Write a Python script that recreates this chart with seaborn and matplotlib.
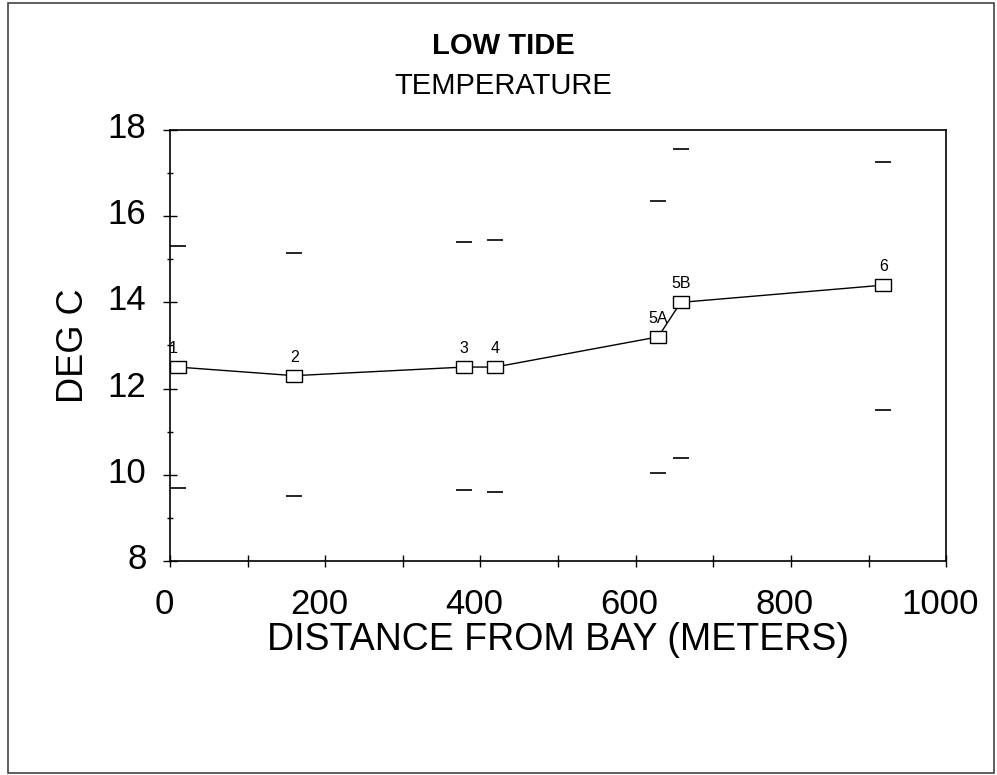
import matplotlib
matplotlib.use("Agg")
import matplotlib.pyplot as plt
import matplotlib.transforms as mtransforms
import seaborn as sns
import numpy as np
import pandas as pd
from matplotlib.patches import Rectangle

# ---- data ----
stations = ["1", "2", "3", "4", "5A", "5B", "6"]
distance_m = [10, 160, 379, 419, 629, 658, 919]
mean_temp = [12.5, 12.3, 12.5, 12.5, 13.2, 14.0, 14.4]
max_temp = [15.3, 15.15, 15.4, 15.45, 16.35, 17.55, 17.25]
min_temp = [9.7, 9.5, 9.65, 9.6, 10.05, 10.4, 11.5]

x_ticks = [0, 200, 400, 600, 800, 1000]
y_ticks = [8, 10, 12, 14, 16, 18]

df = pd.DataFrame({"station": stations, "dist": distance_m, "mean": mean_temp,
                   "max": max_temp, "min": min_temp})

sns.set_style("white")
plt.rcParams["font.family"] = ["Liberation Sans", "DejaVu Sans"]
plt.rcParams["text.color"] = "black"
plt.rcParams["axes.labelcolor"] = "black"
plt.rcParams["xtick.color"] = "black"
plt.rcParams["ytick.color"] = "black"

fig = plt.figure(figsize=(9.97, 7.75), dpi=100)
ax = fig.add_axes([0.1705, 0.2761, 0.7785, 0.5562])

rect_marker = [(-1, -0.72), (1, -0.72), (1, 0.72), (-1, 0.72), (-1, -0.72)]

sns.lineplot(data=df, x="dist", y="mean", ax=ax, sort=False, color="black",
             linewidth=1.0, marker=rect_marker, markersize=11.5,
             markerfacecolor="white", markeredgecolor="black", markeredgewidth=1.0)
sns.scatterplot(data=df, x="dist", y="max", ax=ax, marker="_", s=125,
                color="black", linewidth=1.2)
sns.scatterplot(data=df, x="dist", y="min", ax=ax, marker="_", s=125,
                color="black", linewidth=1.2)

for st, xv, yv in zip(stations, distance_m, mean_temp):
    dx = -3 if st == "1" else 0
    ax.annotate(st, (xv, yv), xytext=(dx, 8), textcoords="offset points",
                ha="center", va="bottom", fontsize=11.5)

ax.set_xlim(0, 1000)
ax.set_ylim(8, 18)
ax.set_xticks(x_ticks)
ax.set_xticks(np.arange(100, 1000, 200), minor=True)
ax.set_yticks(y_ticks)
ax.set_yticks(np.arange(9, 18, 2), minor=True)
ax.tick_params(axis="x", which="both", direction="inout", length=9, width=1,
               labelsize=25, pad=15)
ax.tick_params(axis="y", which="major", direction="inout", length=10, width=1,
               labelsize=25, pad=12)
ax.tick_params(axis="y", which="minor", direction="inout", length=5, width=1)
ax.tick_params(left=True, bottom=True, which="both")

# small offsets of the tick labels as in the original
xoff = mtransforms.ScaledTranslation(-6 / 100, 0, fig.dpi_scale_trans)
yoff = mtransforms.ScaledTranslation(0, 5 / 100, fig.dpi_scale_trans)
for lab in ax.get_xticklabels():
    lab.set_transform(lab.get_transform() + xoff)
for lab in ax.get_yticklabels():
    lab.set_transform(lab.get_transform() + yoff)

for s in ax.spines.values():
    s.set_color("black")
    s.set_linewidth(1.2)

ax.set_xlabel("DISTANCE FROM BAY (METERS)", fontsize=27, labelpad=1)
ax.set_ylabel("DEG C", fontsize=26, labelpad=12)

fig.text(0.505, 0.94, "LOW TIDE", ha="center", va="center", fontsize=21, fontweight="bold")
fig.text(0.505, 0.889, "TEMPERATURE", ha="center", va="center", fontsize=21)

fig.add_artist(Rectangle((0.008, 0.003), 0.989, 0.993, transform=fig.transFigure,
                         fill=False, edgecolor="#444444", linewidth=1.2))

fig.savefig("out.png", dpi=100)
